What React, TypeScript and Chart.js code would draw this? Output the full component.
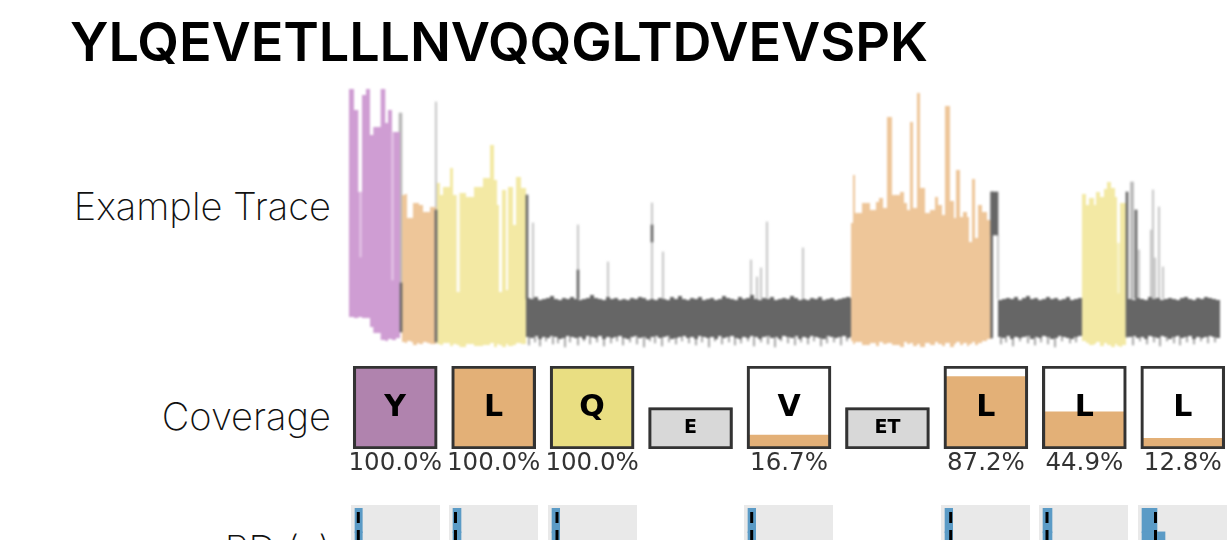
import React, { useEffect, useRef } from "react";
import { Chart, registerables } from "chart.js";

Chart.register(...registerables);

const title = "YLQEVETLLLNVQQGLTDVEVSPK";
const rowLabels = ["Example Trace", "Coverage", "RD (s)"];

// ---- Example trace: time (sample units) and current envelope
const purpleT = [0, 5, 9.3, 13, 17, 21, 24.3, 31.7, 36.3, 39, 43, 47, 51];
const purpleTop = [240, 207, 125, 222, 240, 182, 190, 240, 194, 207, 185, 185, 185];
const purpleLow = [0, -1, 0, -1, -1, -10, -16, -23, -24, -22, -23, -21, -21];

const orangeAT = [53, 56, 58, 62, 64, 68, 70, 74, 78, 81, 87];
const orangeATop = [122, 123, 99, 99, 114, 114, 112, 105, 105, 110, 110];
const orangeALow = [-25, -26, -24, -25, -28, -26, -27, -25, -26, -27, -25];

const yellowAT = [88, 91, 94, 101, 104, 107.7, 110.5, 117, 125, 134, 141, 145, 148, 150, 153, 157, 159, 164, 167, 172, 177];
const yellowATop = [134, 122, 130, 149, 122, 25, 124, 120, 130, 139, 172, 137, 112, 25, 127, 27, 130, 92, 140, 129, 129];
const yellowALow = [-27, -28, -26, -29, -27, -28, -30, -27, -29, -28, -26, -30, -27, -28, -30, -27, -29, -28, -26, -27, -27];

const orangeBT = [502, 504, 506, 513, 521, 527, 530, 534, 538, 543, 551, 555, 558, 561, 564, 568, 571, 576, 581, 586, 589, 593, 596, 601, 605, 607, 611, 614, 618, 620, 623, 626, 629, 633, 638, 642];
const orangeBTop = [94, 142, 104, 114, 107, 115, 119, 109, 200, 122, 125, 114, 107, 195, 109, 224, 129, 104, 107, 120, 112, 102, 211, 116, 99, 147, 100, 105, 100, 75, 138, 79, 112, 105, 97, 97];
const orangeBLow = [-24, -27, -25, -28, -26, -29, -25, -27, -26, -28, -30, -25, -27, -26, -29, -27, -30, -26, -28, -25, -27, -29, -26, -30, -27, -25, -28, -26, -29, -27, -25, -28, -26, -24, -22, -22];

const yellowBT = [733, 737, 740, 745, 747, 751, 755, 758, 762, 766, 768, 771, 773, 777];
const yellowBTop = [123, 112, 119, 112, 125, 120, 128, 135, 129, 120, 74, 114, 114, 114];
const yellowBLow = [-24, -26, -28, -27, -25, -29, -26, -28, -30, -27, -29, -30, -28, -28];

// Baseline stretches, one sample per bin
const baselineStart = [177, 649, 779];
const baselineBin = 4;
const baseATop = [19, 18, 20, 17, 18, 19, 21, 18, 17, 19, 18, 20, 18, 17, 18, 19, 22, 19, 18, 17, 20, 18, 19, 17, 18, 17, 19, 18, 20, 19, 17, 18, 17, 19, 18, 17, 20, 18, 21, 18, 17, 19, 18, 20, 17, 18, 19, 17, 18, 21, 19, 18, 17, 20, 18, 19, 22, 18, 17, 19, 18, 20, 17, 18, 19, 18, 21, 19, 17, 18, 17, 19, 18, 20, 17, 18, 19, 17, 18, 19, 20, 19, 19];
const baseALow = [-20, -21, -19, -22, -20, -21, -19, -20, -22, -21, -19, -20, -21, -20, -22, -19, -20, -21, -19, -22, -20, -21, -20, -19, -21, -22, -20, -19, -21, -20, -22, -20, -19, -21, -20, -19, -22, -21, -20, -19, -21, -20, -22, -19, -20, -21, -20, -22, -19, -21, -20, -19, -21, -22, -20, -21, -19, -20, -22, -20, -19, -21, -20, -22, -19, -20, -21, -19, -22, -20, -21, -19, -20, -21, -22, -19, -20, -21, -20, -19, -21, -20, -20];
const baseBTop = [17, 18, 19, 18, 20, 17, 19, 21, 18, 19, 17, 18, 20, 18, 19, 17, 18, 20, 17, 18, 19, 19];
const baseBLow = [-20, -21, -19, -22, -20, -21, -20, -19, -22, -20, -21, -19, -20, -22, -21, -19, -20, -21, -22, -20, -19, -19];
const baseCTop = [18, 17, 19, 18, 17, 20, 18, 19, 17, 18, 19, 18, 17, 19, 20, 18, 17, 19, 18, 20, 19, 18, 17, 18];
const baseCLow = [-20, -19, -21, -20, -22, -19, -20, -21, -19, -20, -22, -20, -19, -21, -20, -19, -22, -20, -21, -20, -19, -20, -21, -20];

// Faint event spikes and dark event runs
const lightSpikeT = [87, 184, 229, 259, 303, 314, 402, 408, 412, 418, 454, 649, 790, 802, 804, 806, 810, 814];
const lightSpikeHi = [215, 94, 92, 55, 114, 65, 57, 40, 49, 95, 69, 82, 67, 87, 127, 59, 110, 50];
const wideSpikeT = [51.5, 783];
const wideSpikeHi = [204, 135];
const wideSpikeLo = [30, 18];
const darkSpikeT = [52, 87, 178, 229, 303, 642.7, 778, 787];
const darkSpikeHi = [34, 107, 122, 47, 92, 125, 125, 107];
const darkSpikeLo = [-15, -25, 18, 18, 75, -21, -20, 18];
const darkRunT = [645.5];
const darkRunHi = [125];
const darkRunLo = [82];
const streakT = [11.5, 43.5];
const streakHi = [125, 185];
const streakLo = [60, 37];
const yellowStreakT = [769.5];
const yellowStreakHi = [74];
const yellowStreakLo = [24];

// Fuzz below the baseline
const fringeT = [180, 186, 191, 197, 204, 209, 216, 221, 229, 235, 241, 248, 255, 262, 268, 274, 281, 288, 295, 301, 306, 313, 320, 327, 333, 340, 347, 353, 360, 366, 373, 380, 386, 392, 399, 405, 412, 419, 426, 432, 439, 446, 452, 459, 465, 472, 478, 485, 492, 498, 652, 657, 664, 671, 679, 686, 692, 699, 706, 713, 721, 727, 784, 791, 798, 805, 811, 818, 825, 831, 838, 845, 852, 859, 866];
const fringeLo = [-28, -25, -29, -24, -27, -26, -30, -25, -28, -24, -27, -25, -29, -26, -24, -28, -25, -27, -30, -24, -26, -29, -25, -27, -24, -26, -28, -25, -30, -24, -27, -25, -28, -26, -24, -29, -25, -27, -30, -24, -26, -28, -25, -27, -24, -29, -26, -25, -28, -24, -27, -25, -29, -24, -26, -28, -25, -27, -30, -24, -26, -25, -28, -24, -27, -25, -29, -24, -26, -28, -25, -27, -24, -26, -25];

// ---- Coverage row
const residues = ["Y", "L", "Q", "E", "V", "ET", "L", "L", "L"];
const coverage = [100, 100, 100, null, 16.7, null, 87.2, 44.9, 12.8];
const coverageText = ["100.0%", "100.0%", "100.0%", "", "16.7%", "", "87.2%", "44.9%", "12.8%"];
const boxHeight = [100, 100, 100, 50, 100, 50, 100, 100, 100];
const fillColors = ["#b083ae", "#e3b077", "#e9de82", "#d8d8d8", "#e3b077", "#d8d8d8", "#e3b077", "#e3b077", "#e3b077"];
const boxColors = ["#ffffff", "#ffffff", "#ffffff", "#d8d8d8", "#ffffff", "#d8d8d8", "#ffffff", "#ffffff", "#ffffff"];

// ---- RD row: histogram bins and median per measured residue
const rdFirstBin = [7.3, 8, 7.7, 7.7, 7.7, 9, 15];
const rdSecondBin = [7.3, 8, 7.7, 7.7, 7.7, 9, 23];
const rdMedian = [3.3, 2.5, 5, 3.7, 5.7, 4, 13.5];
const rdBinCentres = [0.5, 1.5];

const PURPLE = "#cf9dd3";
const ORANGE = "#eec699";
const YELLOW = "#f3e9a4";
const GREY = "#666666";

const line = (xs: number[], ys: number[]) => xs.map((x, i) => ({ x, y: ys[i] }));
const binned = (start: number, ys: number[]) => ys.map((y, i) => ({ x: start + i * baselineBin, y }));

function band(topPts: any[], lowPts: any[], color: string, order: number) {
  const common = { type: "line", stepped: true, pointRadius: 0, borderWidth: 0, order, backgroundColor: color };
  return [
    { ...common, data: topPts, fill: "+1" },
    { ...common, data: lowPts, fill: false },
  ];
}

function spikes(xs: number[], hi: number[], lo: number[] | number, color: string, width: number, order: number) {
  return {
    type: "bar",
    data: xs.map((x, i) => ({ x, y: [Array.isArray(lo) ? lo[i] : lo, hi[i]] })),
    backgroundColor: color,
    barThickness: width,
    grouped: false,
    order,
  };
}

const quiet = { legend: { display: false }, tooltip: { enabled: false }, title: { display: false } };

function traceConfig() {
  return {
    type: "bar",
    data: {
      datasets: [
        spikes(darkSpikeT, darkSpikeHi, darkSpikeLo, GREY, 2, 0),
        spikes(darkRunT, darkRunHi, darkRunLo, GREY, 7, 0),
        spikes(streakT, streakHi, streakLo, "#e6c8e8", 1.5, 1),
        spikes(yellowStreakT, yellowStreakHi, yellowStreakLo, "#f9f4d2", 1.5, 1),
        ...band(line(purpleT, purpleTop), line(purpleT, purpleLow), PURPLE, 2),
        ...band(line(orangeAT, orangeATop), line(orangeAT, orangeALow), ORANGE, 2),
        ...band(line(yellowAT, yellowATop), line(yellowAT, yellowALow), YELLOW, 2),
        ...band(line(orangeBT, orangeBTop), line(orangeBT, orangeBLow), ORANGE, 2),
        ...band(line(yellowBT, yellowBTop), line(yellowBT, yellowBLow), YELLOW, 2),
        ...band(binned(baselineStart[0], baseATop), binned(baselineStart[0], baseALow), GREY, 3),
        ...band(binned(baselineStart[1], baseBTop), binned(baselineStart[1], baseBLow), GREY, 3),
        ...band(binned(baselineStart[2], baseCTop), binned(baselineStart[2], baseCLow), GREY, 3),
        spikes(lightSpikeT, lightSpikeHi, 18, "#c8c8c8", 1.5, 4),
        spikes(wideSpikeT, wideSpikeHi, wideSpikeLo, "#b8b8b8", 3, 4),
        spikes(fringeT, fringeT.map(() => -18), fringeLo, "#a0a0a0", 1.2, 5),
      ],
    },
    options: {
      animation: false,
      responsive: false,
      events: [],
      plugins: quiet,
      layout: { padding: 0 },
      scales: {
        x: { type: "linear", min: -9, max: 880, offset: false, display: false, grid: { display: false } },
        y: { type: "linear", min: -35, max: 228, display: false },
      },
    },
  };
}

const residueLetters = {
  id: "residueLetters",
  afterDatasetsDraw(chart: any) {
    const { ctx, scales } = chart;
    ctx.save();
    ctx.fillStyle = "#000";
    ctx.textAlign = "center";
    ctx.textBaseline = "middle";
    residues.forEach((r, i) => {
      const tall = boxHeight[i] === 100;
      ctx.font = `bold ${tall ? 30 : 19}px "DejaVu Sans"`;
      ctx.fillText(r, scales.x.getPixelForValue(i), scales.y.getPixelForValue(boxHeight[i] / 2) + (tall ? 1 : 0));
    });
    ctx.restore();
  },
};

function coverageConfig() {
  return {
    type: "bar",
    data: {
      labels: residues,
      datasets: [
        { data: boxHeight, backgroundColor: "rgba(0,0,0,0)", borderColor: "#333333", borderWidth: 2.5, borderSkipped: false, barThickness: 84, grouped: false, order: 0 },
        { data: coverage, backgroundColor: fillColors, barThickness: 82, grouped: false, order: 1 },
        { data: boxHeight, backgroundColor: boxColors, barThickness: 82, grouped: false, order: 2 },
      ],
    },
    options: {
      animation: false,
      responsive: false,
      events: [],
      plugins: quiet,
      layout: { padding: { top: 6, left: 0, right: 0, bottom: 0 } },
      scales: {
        x: {
          grid: { display: false, drawTicks: false },
          border: { display: false },
          afterFit: (s: any) => { s.height = 31; },
          ticks: {
            autoSkip: false,
            maxRotation: 0,
            padding: 0,
            color: "#333333",
            font: { family: '"DejaVu Sans"', size: 24.5 },
            callback: (_: any, i: number) => coverageText[i],
          },
        },
        y: { min: 0, max: 100, display: false },
      },
    },
    plugins: [residueLetters],
  };
}

function rdConfig(k: number) {
  return {
    type: "bar",
    data: {
      datasets: [
        {
          type: "line",
          indexAxis: "y",
          data: [{ x: rdMedian[k], y: 0.17 }, { x: rdMedian[k], y: 4 }],
          borderColor: "#000000",
          borderWidth: 3,
          borderDash: [11, 7],
          pointRadius: 0,
          order: 0,
        },
        {
          data: rdBinCentres.map((y, i) => ({ y, x: i === 0 ? rdFirstBin[k] : rdSecondBin[k] })),
          backgroundColor: "#5b9bc6",
          barThickness: 25,
          grouped: false,
          order: 1,
        },
      ],
    },
    options: {
      indexAxis: "y",
      animation: false,
      responsive: false,
      events: [],
      plugins: quiet,
      layout: { padding: { top: 3, left: 0, right: 0, bottom: 0 } },
      scales: {
        x: { type: "linear", min: -4, max: 85, offset: false, display: false },
        y: { type: "linear", min: 0, max: 4, reverse: true, offset: false, display: false },
      },
    },
  };
}

function Plot({ config, left, top, width, height, background, blur }: any) {
  const ref = useRef<HTMLCanvasElement>(null);
  useEffect(() => {
    const chart = new Chart(ref.current as any, config());
    return () => chart.destroy();
  }, []);
  return (
    <canvas
      ref={ref}
      width={width}
      height={height}
      style={{ position: "absolute", left, top, width, height, background, filter: `blur(${blur}px)` }}
    />
  );
}

const labelStyle: React.CSSProperties = {
  position: "absolute",
  right: 1229 - 331,
  fontFamily: "Inter, sans-serif",
  fontWeight: 200,
  fontSize: 38.1,
  lineHeight: "44px",
  color: "#111",
  whiteSpace: "nowrap",
};

const rdLefts = [351, 449, 548, 744, 941, 1039, 1138];

export default function App() {
  return (
    <div style={{ position: "fixed", left: 0, top: 0, width: 1229, height: 540, overflow: "hidden", background: "#fff" }}>
      <div style={{ position: "absolute", left: 70, top: 10, fontFamily: "Inter, sans-serif", fontWeight: 600, fontSize: 54, lineHeight: "64px", letterSpacing: -0.12, color: "#000", whiteSpace: "nowrap" }}>
        {title}
      </div>
      <div style={{ ...labelStyle, top: 184 }}>{rowLabels[0]}</div>
      <div style={{ ...labelStyle, top: 394 }}>{rowLabels[1]}</div>
      <div style={{ ...labelStyle, top: 527 }}>{rowLabels[2]}</div>
      <Plot config={traceConfig} left={340} top={89} width={889} height={263} blur={1} />
      <Plot config={coverageConfig} left={346} top={360} width={886} height={120} blur={0.6} />
      {rdLefts.map((left, k) => (
        <Plot key={k} config={() => rdConfig(k)} left={left} top={505} width={89} height={100} background="#e9e9e9" blur={0.6} />
      ))}
    </div>
  );
}
